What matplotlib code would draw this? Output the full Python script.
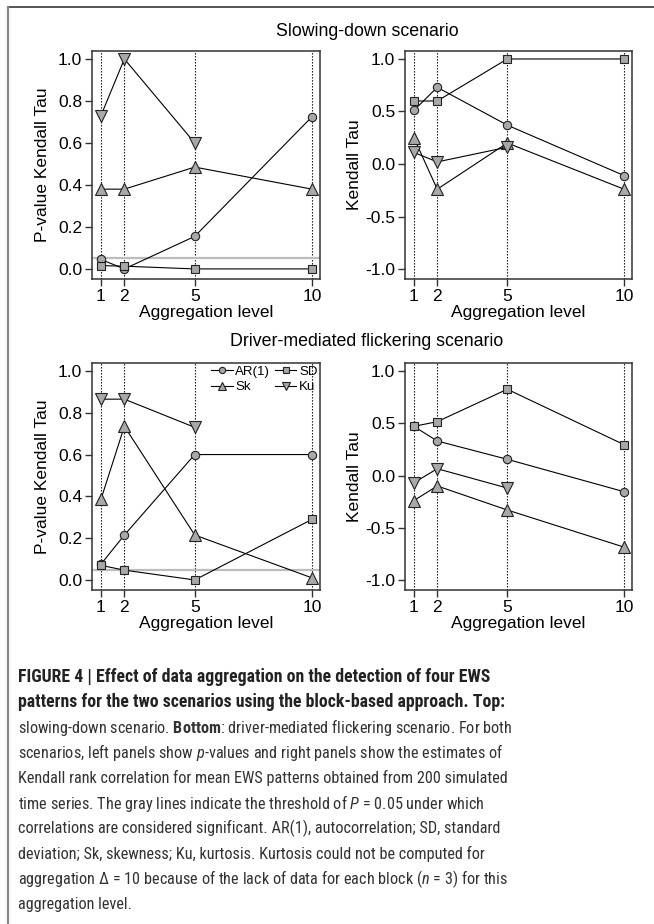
import numpy as np
import matplotlib.pyplot as plt
from matplotlib.lines import Line2D
from matplotlib import font_manager

plt.rcParams['font.family'] = ['Liberation Sans', 'DejaVu Sans']
plt.rcParams['axes.unicode_minus'] = False

#Caption font: a narrow face if there is one, else Liberation Sans set smaller
cap_family, cap_size, cap_bold_size = "Liberation Sans", 10.4, 10.8
for cand in ["Liberation Sans Narrow", "Roboto Condensed", "Arial Narrow"]:
    try:
        font_manager.findfont(cand, fallback_to_default=False)
        cap_family, cap_size, cap_bold_size = cand, 11.7, 12.8
        break
    except ValueError:
        pass
plt.rcParams['mathtext.fontset'] = 'custom'
plt.rcParams['mathtext.rm'] = cap_family
plt.rcParams['mathtext.it'] = cap_family + ':italic'
plt.rcParams['mathtext.bf'] = cap_family + ':bold'

##########
## Data ##
##########
agg = [1, 2, 5, 10]

#Slowing-down scenario
sd_p_ar1 = [0.045, 0.0, 0.155, 0.725]
sd_p_sd = [0.016, 0.013, 0.0, 0.0]
sd_p_sk = [0.38, 0.38, 0.485, 0.38]
sd_p_ku = [0.73, 1.0, 0.6]

sd_t_ar1 = [0.51, 0.73, 0.37, -0.11]
sd_t_sd = [0.6, 0.6, 1.0, 1.0]
sd_t_sk = [0.25, -0.24, 0.2, -0.24]
sd_t_ku = [0.11, 0.02, 0.16]

#Driver-mediated flickering scenario
fl_p_ar1 = [0.075, 0.215, 0.6, 0.6]
fl_p_sd = [0.07, 0.047, 0.0, 0.29]
fl_p_sk = [0.385, 0.735, 0.215, 0.01]
fl_p_ku = [0.865, 0.865, 0.73]

fl_t_ar1 = [0.47, 0.33, 0.155, -0.155]
fl_t_sd = [0.47, 0.515, 0.825, 0.295]
fl_t_sk = [-0.24, -0.10, -0.33, -0.685]
fl_t_ku = [-0.07, 0.065, -0.12]

p_threshold = 0.05
series_names = ["AR(1)", "SD", "Sk", "Ku"]
p_ticks = [0.0, 0.2, 0.4, 0.6, 0.8, 1.0]
tau_ticks = [-1.0, -0.5, 0.0, 0.5, 1.0]

caption_lines = [
    ("FIGURE 4 | Effect of data aggregation on the detection of four EWS", "bold"),
    ("patterns for the two scenarios using the block-based approach. Top:", "bold"),
    (r"slowing-down scenario. $\mathbf{Bottom}$: driver-mediated flickering scenario. For both", "normal"),
    (r"scenarios, left panels show $p$-values and right panels show the estimates of", "normal"),
    ("Kendall rank correlation for mean EWS patterns obtained from 200 simulated", "normal"),
    (r"time series. The gray lines indicate the threshold of $P$ = 0.05 under which", "normal"),
    ("correlations are considered significant. AR(1), autocorrelation; SD, standard", "normal"),
    ("deviation; Sk, skewness; Ku, kurtosis. Kurtosis could not be computed for", "normal"),
    (r"aggregation Δ = 10 because of the lack of data for each block ($n$ = 3) for this", "normal"),
    ("aggregation level.", "normal"),
]

#############
## Styling ##
#############
W, H = 654, 924
fill = "#a8a8a8"
styles = {
    "AR(1)": dict(marker="o", ms=6),
    "SD": dict(marker="s", ms=5.5),
    "Sk": dict(marker="^", ms=8.5),
    "Ku": dict(marker="v", ms=8.5),
}

fig = plt.figure(figsize=(W/100, H/100), dpi=100)

def px_rect(x0, y0, x1, y1):
    return [x0/W, 1-y1/H, (x1-x0)/W, (y1-y0)/H]

def make_panel(rect, data, ylabel, is_pval, ylab_x):
    ax = fig.add_axes(rect)
    for x in agg:
        ax.axvline(x, color="k", ls=(0, (1.2, 1.5)), lw=0.8, zorder=1)
    if is_pval:
        ax.axhline(p_threshold, color="#bdbdbd", lw=1.6, zorder=1.5)
    handles = []
    for name, vals in zip(series_names, data):
        st = styles[name]
        h, = ax.plot(agg[:len(vals)], vals, color="k", lw=0.8,
                     marker=st["marker"], ms=st["ms"], mfc=fill, mec="#222222",
                     mew=0.8, zorder=3, label=name)
        handles.append(h)
    ax.set_xlim(0.62, 10.34)
    if is_pval:
        ax.set_ylim(-0.048, 1.038)
        ax.set_yticks(p_ticks)
    else:
        ax.set_ylim(-1.095, 1.076)
        ax.set_yticks(tau_ticks)
    ax.set_yticklabels([f"{t:.1f}" for t in ax.get_yticks()])
    ax.set_xticks(agg)
    ax.set_xticklabels([str(a) for a in agg])
    ax.tick_params(axis="both", labelsize=12.5, length=5, width=1, color="#333333", pad=2)
    for s in ax.spines.values():
        s.set_linewidth(1.1)
        s.set_color("#333333")
    ax.set_ylabel(ylabel, fontsize=12.5)
    ax.set_xlabel("Aggregation level", fontsize=12.5)
    ax.yaxis.set_label_coords(ylab_x, 0.5)
    ax.xaxis.set_label_coords(0.5, -0.115)
    return ax, handles

ax1, _ = make_panel(px_rect(92, 51, 320, 279), [sd_p_ar1, sd_p_sd, sd_p_sk, sd_p_ku], "P-value Kendall Tau", True, -0.186)
ax2, _ = make_panel(px_rect(405, 51, 632, 279), [sd_t_ar1, sd_t_sd, sd_t_sk, sd_t_ku], "Kendall Tau", False, -0.19)
ax3, hs = make_panel(px_rect(92, 363, 320, 590), [fl_p_ar1, fl_p_sd, fl_p_sk, fl_p_ku], "P-value Kendall Tau", True, -0.186)
ax4, _ = make_panel(px_rect(405, 363, 632, 590), [fl_t_ar1, fl_t_sd, fl_t_sk, fl_t_ku], "Kendall Tau", False, -0.19)

#Legend: AR(1), SD on first row, Sk, Ku on second
ax3.legend([hs[0], hs[2], hs[1], hs[3]], ["AR(1)", "Sk", "SD", "Ku"], ncol=2,
           loc="upper right", bbox_to_anchor=(1.03, 1.03), frameon=False,
           fontsize=9.5, markerscale=0.75, handlelength=1.6, handletextpad=0.2,
           columnspacing=0.4, labelspacing=0.25, borderaxespad=0.3)

fig.text(367/W, 1-32/H, "Slowing-down scenario", ha="center", va="center", fontsize=12.8)
fig.text(367/W, 1-341/H, "Driver-mediated flickering scenario", ha="center", va="center", fontsize=12.8)

#Caption
for i, (line, weight) in enumerate(caption_lines):
    fig.text(18/W, 1-(677+25.3*i)/H, line, ha="left", va="center",
             fontsize=cap_bold_size if weight == "bold" else cap_size,
             fontweight=weight, color="#222222" if weight == "bold" else "#333333",
             family=[cap_family, "DejaVu Sans"])

#Frame around figure (top and left edges)
fig.add_artist(Line2D([7.5/W, 1], [1-6.5/H, 1-6.5/H], color="#555555", lw=1.4))
fig.add_artist(Line2D([7.5/W, 7.5/W], [0, 1-6.5/H], color="#888888", lw=1.6))

plt.savefig("out.png", dpi=100)
